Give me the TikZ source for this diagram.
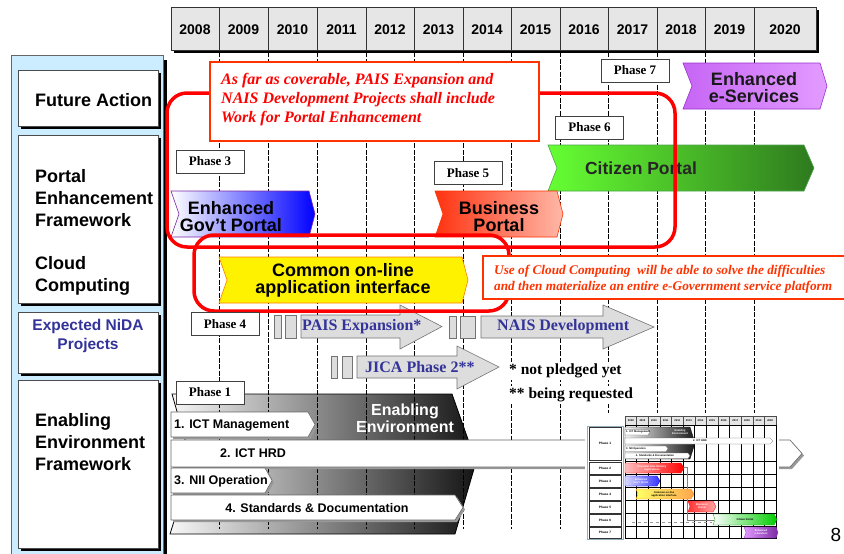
\documentclass[tikz,border=0pt]{standalone}
\usepackage{fontspec}
\setmainfont{Liberation Sans}
\newfontfamily\tnr{Liberation Serif}
\usetikzlibrary{shadows}
\definecolor{panelblue}{HTML}{CCECFF}
\definecolor{nida}{HTML}{333399}
\definecolor{orangered}{HTML}{FF3300}
\definecolor{hdrgray}{HTML}{E6E6E6}
\definecolor{arrowgray}{HTML}{DDDDDD}
\definecolor{purpA}{HTML}{C766F5}
\definecolor{purpB}{HTML}{E29BFF}
\definecolor{purpD}{HTML}{9933CC}
\definecolor{grnA}{HTML}{66FF33}
\definecolor{grnB}{HTML}{2E7A1E}
\definecolor{redA}{HTML}{FF3311}
\definecolor{redB}{HTML}{FFB8A8}
\newcommand\fsz[2]{\fontsize{#1}{#2}\selectfont}
% chevron: style, x1, y1, x2, y2, notch, tip
\newcommand\chev[7]{\path[#1] (#2,#3) -- ({#4-#7},#3) -- (#4,{(#3+#5)/2}) -- ({#4-#7},#5) -- (#2,#5) -- ({#2+#6},{(#3+#5)/2}) -- cycle;}
% block arrow: style, x1, headx, tipx, y1, y2, hy1, hy2
\newcommand\blockarrow[8]{\path[#1] (#2,#5) -- (#3,#5) -- (#3,#7) -- (#4,{(#5+#6)/2}) -- (#3,#8) -- (#3,#6) -- (#2,#6) -- cycle;}
\begin{document}
\begin{tikzpicture}[x=1pt,y=-1pt,
  lbl/.style={font=\bfseries\fsz{18}{22}, align=left, anchor=west, inner sep=0pt},
  yr/.style={font=\bfseries\fsz{14}{16}, inner sep=0pt},
  phasebox/.style={draw=black!75, fill=white, line width=0.8pt, font=\tnr\bfseries\fsz{13}{15}, minimum width=68pt, minimum height=23pt, inner sep=0pt},
  chevtxt/.style={font=\bfseries\fsz{18}{17}, align=center, inner sep=0pt},
  bartxt/.style={font=\bfseries\fsz{12.5}{14}, inner sep=0pt},
  nidatxt/.style={font=\tnr\bfseries\fsz{16}{18}, text=nida, inner sep=0pt, anchor=west},
  notetxt/.style={font=\tnr\bfseries\fsz{15.5}{18}, fill=white, inner xsep=1pt, inner ysep=2pt, anchor=west},
  redrect/.style={draw=red, line width=3.5pt, rounded corners=20pt},
  barstyle/.style={draw=black!60, fill=white, line width=0.6pt, drop shadow={shadow xshift=2pt, shadow yshift=-2pt, fill=black!40, opacity=1}},
  sidebox/.style={draw=black!70, fill=white, line width=0.8pt},
  vline/.style={black, line width=0.9pt, dash pattern=on 5pt off 1.5pt},
  garrow/.style={draw=black!55, fill=arrowgray, line width=0.6pt},
  tinyt/.style={font=\bfseries\fsz{2.6}{3}, inner sep=0pt},
  tbar/.style={draw=black!60, fill=white, line width=0.3pt}
]
\useasboundingbox (0,0) rectangle (844,554);
\fill[white] (0,0) rectangle (844,554);

% ---------- left panel ----------
\fill[black] (163,60) rectangle (167,556);
\draw[draw=black!60, fill=panelblue, line width=0.6pt] (11,55) rectangle (163,558);
\foreach \ya/\yb in {70/126,135/303,312/373,380/548}{
  \fill[black] (21,{\ya+3}) rectangle (161,{\yb+3});
  \draw[sidebox] (18,\ya) rectangle (158,\yb);
}
\node[lbl] (lfa) at (35,100) {Future Action};
\node[lbl] (lpe) at (35,198) {Portal\\Enhancement\\Framework};
\node[lbl] (lcc) at (35,276) {Cloud\\Computing};
\node[font=\bfseries\fsz{15.5}{19}, text=nida, align=center, inner sep=0pt] (lnida) at (88,335.5) {Expected NiDA\\Projects};
\node[lbl] (lee) at (35,442) {Enabling\\Environment\\Framework};

% ---------- header ----------
\fill[black] (174,10) rectangle (819,53);
\draw[fill=hdrgray, draw=black!80, line width=0.8pt] (171,7) rectangle (816,50);
\foreach \x in {219,268,317,366,414,463,511,560,608,657,705,754}{
  \draw[black!80, line width=0.8pt] (\x,7) -- (\x,50);
}
\foreach \c/\t in {195/2008,243.5/2009,292.5/2010,341.5/2011,390/2012,438.5/2013,487/2014,535.5/2015,584/2016,632.5/2017,681/2018,729.5/2019,785/2020}{
  \node[yr] (y\t) at (\c,30) {\t};
}

% ---------- enabling environment shading ----------
\path[draw=black, line width=0.8pt, left color=gray!6, middle color=gray!55, right color=black!92]
  (172,394) -- (452,394) -- (476,462) -- (455,534) -- (170,534) -- (192,464) -- cycle;

% ---------- vertical year lines ----------
\foreach \x in {219,268,317,366,414,463,511,560,608,657,705,754}{
  \draw[vline] (\x,52) -- (\x,529);
}

% ---------- portal chevrons ----------
\chev{draw=purpD, line width=0.6pt, left color=purpA, right color=purpB}{683}{63}{827}{109}{9}{7}
\node[chevtxt, text=black!90] (es) at (754,88) {Enhanced\\e-Services};
\chev{draw=green!50!black!70, line width=0.6pt, left color=grnA, right color=grnB}{548}{145}{814}{191}{9}{10}
\node[chevtxt, font=\bfseries\fsz{17.5}{17}, text=black!85] (cp) at (641,168) {Citizen Portal};
\chev{draw=orangered, line width=0.6pt, left color=redA, right color=redB}{435}{191}{563}{237}{8}{6}
\node[chevtxt] (bp) at (499,217) {Business\\Portal};
\chev{draw=purpD!80!black, line width=0.6pt, left color=white, right color=blue}{171}{191}{315}{237}{8}{6}
\node[chevtxt] (gp) at (231,216.5) {Enhanced\\Gov't Portal};
\chev{draw=orange, line width=0.6pt, fill=yellow}{219}{257}{468}{303}{8}{6}
\node[chevtxt] (co) at (343,280.5) {Common on-line\\application interface};

% ---------- NiDA arrows ----------
\draw[garrow] (274,315) rectangle (281,338);
\draw[garrow] (285,315) rectangle (296,338);
\blockarrow{garrow}{301}{400}{442}{315}{338}{305}{349}
\node[nidatxt] (pais) at (302,327) {PAIS Expansion*};
\draw[garrow] (449,316) rectangle (456,338);
\draw[garrow] (460,316) rectangle (475,338);
\blockarrow{garrow}{481}{603}{654}{316}{338}{305}{349}
\node[nidatxt] (nais) at (497,327) {NAIS Development};
\draw[garrow] (331,356) rectangle (337,378);
\draw[garrow] (342,356) rectangle (352,378);
\blockarrow{garrow}{357}{457}{499}{356}{378}{346}{389}
\node[nidatxt] (jica) at (365,367) {JICA Phase 2**};
\node[notetxt] (n1) at (508,371) {* not pledged yet};
\node[notetxt] (n2) at (508,395) {** being requested};

% ---------- enabling bars ----------
\node[font=\bfseries\fsz{16}{17}, text=white, align=center, inner sep=0pt] (eet) at (405,418.5) {Enabling\\Environment};
\chev{barstyle}{171}{412}{315}{437}{0}{7}
\node[bartxt, anchor=west] (b1) at (174,425) {1. ICT Management};
\chev{barstyle}{171}{440}{802}{467}{0}{12}
\node[bartxt] (b2) at (253,453) {2. ICT HRD};
\chev{barstyle}{171}{468}{272}{493}{0}{7}
\node[bartxt, anchor=west] (b3) at (174,481) {3. NII Operation};
\chev{barstyle}{171}{495}{463}{520}{0}{8}
\node[bartxt] (b4) at (317,508) {4. Standards \& Documentation};

% ---------- red rounded frames ----------
\draw[redrect] (167,93) rectangle (675,247);
\draw[redrect] (194,235) rectangle (509,311);

% ---------- text boxes ----------
\node[draw=orangered, line width=1.6pt, fill=white, minimum width=329pt, minimum height=79pt, inner sep=0pt] (tb1) at (374.5,101.5) {};
\node[font=\tnr\bfseries\itshape\fsz{16}{19}, text=red, align=left, anchor=west, inner sep=0pt] (tb1t) at (221,99.5)
  {As far as coverable, PAIS Expansion and\\NAIS Development Projects shall include\\Work for Portal Enhancement};
\node[draw=orangered, line width=1.6pt, fill=white, minimum width=380pt, minimum height=43pt, inner sep=0pt, anchor=north west] (tb2) at (482,255) {};
\node[font=\tnr\bfseries\itshape\fsz{13.3}{16}, text=orangered, align=left, anchor=west, inner sep=0pt] (tb2t) at (494,279)
  {Use of Cloud Computing\ \ will be able to solve the difficulties\\and then materialize an entire e-Government service platform};

% ---------- phase boxes ----------
\node[phasebox] (p7) at (635,70.5) {Phase 7};
\node[phasebox] (p6) at (589.5,127.5) {Phase 6};
\node[phasebox] (p3) at (210,161.5) {Phase 3};
\node[phasebox] (p5) at (468,173) {Phase 5};
\node[phasebox] (p4) at (225,324) {Phase 4};
\node[phasebox] (p1) at (210,392.5) {Phase 1};

% ---------- thumbnail of the roadmap ----------
\fill[white] (585,413) rectangle (779,540);
\draw[black!70, fill=hdrgray, line width=0.4pt] (625,416) rectangle (776,425);
\foreach \i/\t in {0/2008,1/2009,2/2010,3/2011,4/2012,5/2013,6/2014,7/2015,8/2016,9/2017,10/2018,11/2019,12/2020}{
  \draw[black!70, line width=0.3pt] ({625+11.615*\i},416) -- ({625+11.615*\i},425);
  \node[tinyt] (ty\t) at ({630.8+11.615*\i},420.5) {\t};
}
\draw[black, line width=0.5pt] (625,425) rectangle (776,538);
\foreach \i in {1,...,12}{
  \draw[black, line width=0.5pt] ({625+11.615*\i},425) -- ({625+11.615*\i},538);
}
\foreach \y in {461,474.5,487.5,500.5,513.5,526.5}{
  \draw[black, line width=0.4pt] (625,\y) -- (776,\y);
}
% phase column
\draw[cyan!40!black!50, line width=0.5pt, fill=white] (587,426) rectangle (623,539);
\foreach \ya/\yb/\n in {427/460/1,462/474/2,475/487/3,488/500/4,501/513/5,514/526/6,527/538/7}{
  \draw[black!80, line width=0.5pt, fill=white] (589,\ya) rectangle (621,\yb);
  \node[tinyt, font=\bfseries\fsz{3.2}{4}] (tp\n) at (605,{(\ya+\yb)/2}) {Phase \n};
}
% phase 1 content
\path[draw=black, line width=0.3pt, left color=gray!10, middle color=gray!55, right color=black!90]
  (625,427) -- (690,427) -- (695,443) -- (690,459) -- (625,459) -- cycle;
\node[tinyt, text=white, align=center] (tee) at (680,432) {Enabling\\Environment};
\chev{tbar}{625}{429.5}{650}{435}{0}{2}
\node[tinyt, anchor=west] (tb1x) at (626,432.3) {1. ICT Management};
\chev{tbar}{625}{438}{773}{444}{0}{3}
\node[tinyt] (tb2x) at (700,441) {2. ICT HRD};
\chev{tbar}{625}{446}{668}{451.5}{0}{2}
\node[tinyt, anchor=west] (tb3x) at (626,448.8) {3. NII Operation};
\chev{tbar}{625}{453}{690}{458.5}{0}{2}
\node[tinyt] (tb4x) at (655,455.8) {4. Standards \& Documentation};
% connector lines
\draw[black!50, line width=0.4pt] (683,467) -- (687,467) -- (687,520) -- (714,520);
\draw[black!40, line width=0.3pt, dashed] (632,522) -- (712,522);
% phase bars
\chev{draw=red, line width=0.3pt, left color=red!25, right color=red}{625}{463}{684}{473}{0}{3}
\node[tinyt, text=white, align=center] (tr2) at (652,468) {Essential Inter-Ministry\\Applications};
\chev{draw=blue, line width=0.3pt, left color=blue!15, right color=blue!80}{625}{476}{660}{486}{0}{3}
\node[tinyt, text=white, align=center] (tr3) at (641,481) {Enhanced\\Gov't Portal};
\chev{draw=orange, line width=0.3pt, left color=yellow!60, right color=orange!70}{636}{489}{694}{499}{2}{3}
\node[tinyt, align=center] (tr4) at (664,494) {Common on-line\\application interface};
\chev{draw=red, line width=0.3pt, left color=red!80, right color=red!35}{688}{501}{716}{512}{2}{3}
\node[tinyt, text=white, align=center] (tr5) at (702,506.5) {Business\\Portal};
\chev{draw=green!60!black, line width=0.3pt, left color=white, right color=green!80!black}{713}{514}{777}{525}{2}{3}
\node[tinyt] (tr6) at (745,519.5) {Citizen Portal};
\chev{draw=purpD, line width=0.3pt, left color=purpB, right color=purpD!80!black}{744}{527}{778}{538}{2}{2}
\node[tinyt, text=white, align=center] (tr7) at (761,532.5) {Enhanced\\e-Services};

% ---------- page number ----------
\node[font=\fsz{19}{20}, inner sep=0pt] (pg) at (836,535) {8};
\end{tikzpicture}
\end{document}
